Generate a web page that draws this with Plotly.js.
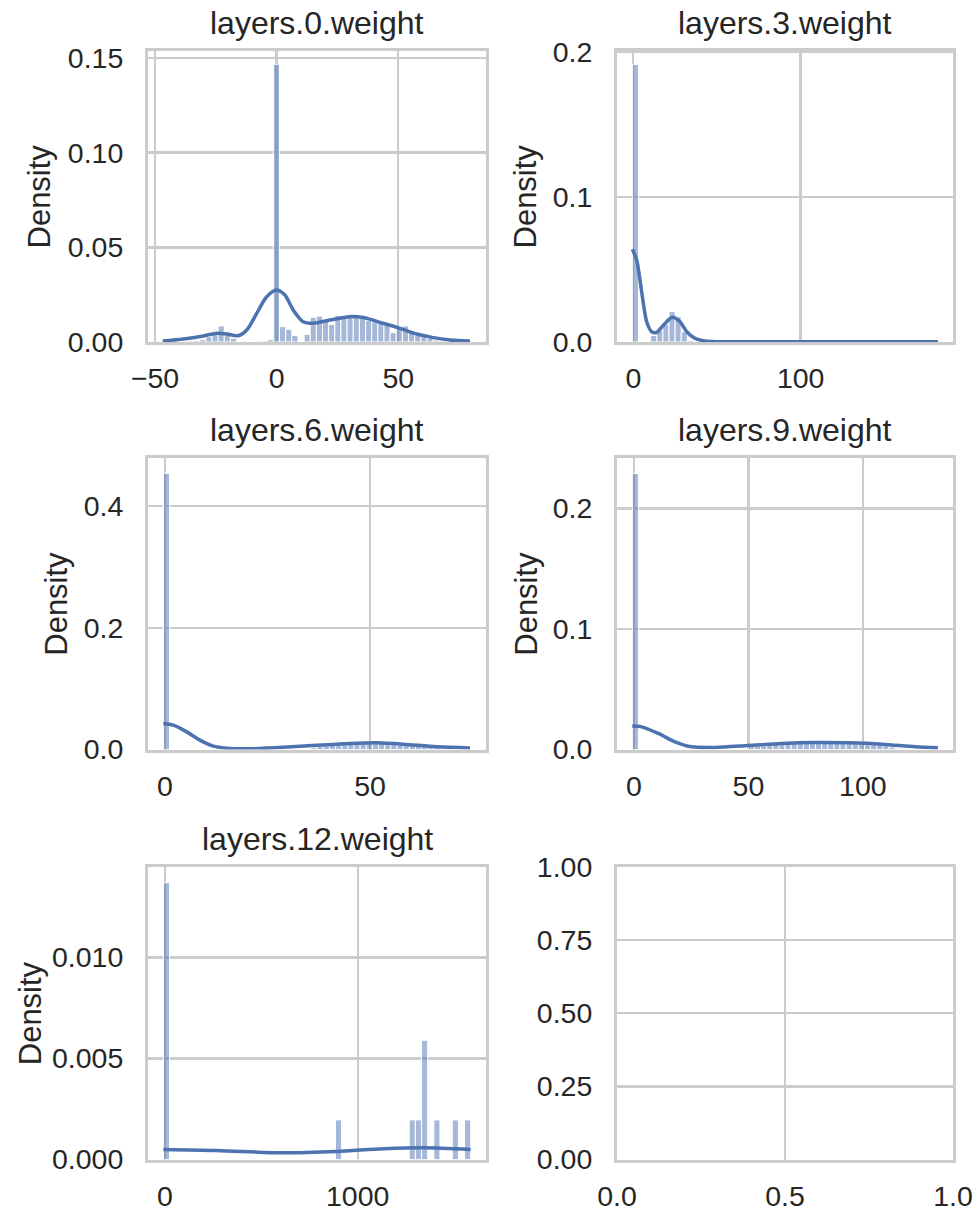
<!DOCTYPE html>
<html>
<head>
<meta charset="utf-8">
<script src="https://cdn.plot.ly/plotly-3.0.1.min.js"></script>
<style>html,body{margin:0;padding:0;background:#fff;}#chart{width:978px;height:1213px;}</style>
</head>
<body>
<div id="chart"></div>
<script>
// ---------------- data ----------------
const panelTitles = ["layers.0.weight", "layers.3.weight", "layers.6.weight", "layers.9.weight", "layers.12.weight"];

// layers.0.weight
const l0_binStart = -46.8, l0_binWidth = 2.526;
const l0_density = [0.0003, 0, 0, 0.0003, 0.0005, 0.0008, 0.0012, 0.0028, 0.0053, 0.0085,
  0.0053, 0.0020, 0, 0, 0.0003, 0.0004, 0.0005, 0.0012, 0.1467, 0.0081,
  0.0067, 0.0035, 0, 0.0040, 0.0130, 0.0137, 0.0113, 0.0092, 0.0141, 0.0141,
  0.0146, 0.0143, 0.0125, 0.0113, 0.0107, 0.0099, 0.0090, 0.0049, 0.0075, 0.0085,
  0.0060, 0.0035, 0.0028, 0.0018, 0.0010, 0.0006, 0.0004, 0.0003, 0.0002, 0.0002];
const l0_kdeX = [-46.8, -38.4, -30.2, -24.7, -20.6, -15.8, -12.3, -8.2, -4.1, 0, 3.4, 6.8, 10.9, 15.1, 21.9, 30.1, 35.6, 43.8, 50.7, 57.6, 64.4, 71.3, 79.5];
const l0_kdeY = [0.0005, 0.0016, 0.0032, 0.0046, 0.0042, 0.0033, 0.0063, 0.0151, 0.0239, 0.0275, 0.0248, 0.0169, 0.0107, 0.0099, 0.0116, 0.0134, 0.0129, 0.0099, 0.0072, 0.0042, 0.0023, 0.0011, 0.0005];

// layers.3.weight
const l3_binStart = -0.57, l3_binWidth = 3.65;
const l3_density = [0.1915, 0, 0, 0.0045, 0.0080, 0.0120, 0.0210, 0.0175, 0.0070, 0.0010,
  0, 0, 0, 0, 0, 0, 0, 0, 0, 0,
  0, 0, 0, 0, 0, 0, 0, 0, 0, 0,
  0, 0, 0, 0, 0, 0, 0, 0, 0, 0,
  0, 0, 0, 0, 0, 0, 0, 0, 0, 0.0003];
const l3_kdeX = [-0.57, 2.0, 4.0, 6.0, 8.0, 11.0, 14.0, 18.1, 23.3, 27.9, 31.9, 36.9, 42.8, 50, 70, 100, 140, 182];
const l3_kdeY = [0.0640, 0.0566, 0.0428, 0.0267, 0.0140, 0.0071, 0.0067, 0.0117, 0.0170, 0.0140, 0.0071, 0.0025, 0.0007, 0.0002, 0.0001, 0.0001, 0.0001, 0.0001];

// layers.6.weight
const l6_binStart = -0.4, l6_binWidth = 1.5;
const l6_density = [0.4540, 0, 0, 0, 0, 0, 0, 0, 0, 0,
  0, 0, 0, 0, 0, 0, 0, 0, 0, 0,
  0, 0, 0, 0, 0.0030, 0.0050, 0.0060, 0.0070, 0.0080, 0.0090,
  0.0100, 0.0110, 0.0120, 0.0130, 0.0120, 0.0120, 0.0110, 0.0100, 0.0100, 0.0090,
  0.0080, 0.0070, 0.0060, 0.0040, 0.0030, 0.0020, 0.0010, 0.0005, 0.0003, 0.0003];
const l6_kdeX = [-0.4, 2.0, 5.3, 8.5, 11.8, 15.0, 20.7, 28.9, 37.0, 45.1, 51.6, 58.1, 66.3, 74.4];
const l6_kdeY = [0.0428, 0.0400, 0.0290, 0.0154, 0.0055, 0.0022, 0.0012, 0.0035, 0.0070, 0.0099, 0.0110, 0.0088, 0.0044, 0.0025];

// layers.9.weight
const l9_binStart = -0.75, l9_binWidth = 2.67;
const l9_density = [0.2290, 0, 0, 0, 0, 0, 0, 0, 0, 0,
  0, 0, 0, 0, 0, 0, 0, 0, 0, 0.0030,
  0.0040, 0.0030, 0.0040, 0.0050, 0.0040, 0.0050, 0.0060, 0.0050, 0.0060, 0.0070,
  0.0070, 0.0060, 0.0060, 0.0070, 0.0050, 0.0060, 0.0050, 0.0060, 0.0040, 0.0050,
  0.0060, 0.0030, 0.0020, 0.0010, 0.0005, 0.0003, 0, 0, 0, 0.0003];
const l9_kdeX = [-0.75, 3.4, 10.6, 17.9, 25.2, 35.4, 50.0, 64.6, 79.1, 93.7, 108.3, 122.9, 132.8];
const l9_kdeY = [0.0194, 0.0188, 0.0133, 0.0064, 0.0022, 0.0017, 0.0033, 0.0050, 0.0058, 0.0055, 0.0044, 0.0022, 0.0014];

// layers.12.weight
const l12_binStart = -8.5, l12_binWidth = 31.9;
const l12_density = [0.0137, 0, 0, 0, 0, 0, 0, 0, 0, 0,
  0, 0, 0, 0, 0, 0, 0, 0, 0, 0,
  0, 0, 0, 0, 0, 0, 0, 0, 0.00196, 0,
  0, 0, 0, 0, 0, 0, 0, 0, 0, 0,
  0.00196, 0.00196, 0.0059, 0, 0.00196, 0, 0, 0.00196, 0, 0.00196];
const l12_kdeX = [-8.5, 268, 614, 891, 1133, 1340, 1586];
const l12_kdeY = [0.00050, 0.00045, 0.00033, 0.00040, 0.00053, 0.00058, 0.00050];

// tick labels
const xTicks = [[-50, 0, 50], [0, 100], [0, 50], [0, 50, 100], [0, 1000], [0, 0.5, 1]];
const xTickText = [["\u221250", "0", "50"], ["0", "100"], ["0", "50"], ["0", "50", "100"], ["0", "1000"], ["0.0", "0.5", "1.0"]];
const yTicks = [[0, 0.05, 0.10, 0.15], [0, 0.1, 0.2], [0, 0.2, 0.4], [0, 0.1, 0.2], [0, 0.005, 0.010], [0, 0.25, 0.5, 0.75, 1]];
const yTickText = [["0.00", "0.05", "0.10", "0.15"], ["0.0", "0.1", "0.2"], ["0.0", "0.2", "0.4"], ["0.0", "0.1", "0.2"], ["0.000", "0.005", "0.010"], ["0.00", "0.25", "0.50", "0.75", "1.00"]];

// ---------------- layout geometry ----------------
const W = 978, H = 1213;
const colPx = [[148, 486], [617, 953]];
const rowPx = [[51, 342], [458, 749.5], [867, 1159.5]];
const xRanges = [[-52.9, 86.1], [-9.74, 191.0], [-4.15, 78.3], [-7.43, 139.4], [-88.2, 1665.8], [0, 1]];
const yRanges = [[0, 0.1537], [0, 0.2007], [0, 0.479], [0, 0.2419], [0, 0.01448], [0, 1]];
const densityLabelX = [39, 525, 57, 527, 30];

const blue = "#4c72b0";
const barFill = "rgba(76,114,176,0.5)";
const grid = "#cccccc";
const txt = "#262626";
const FONT = "Liberation Sans, Arial, sans-serif";

const hist = [
  [l0_binStart, l0_binWidth, l0_density, l0_kdeX, l0_kdeY],
  [l3_binStart, l3_binWidth, l3_density, l3_kdeX, l3_kdeY],
  [l6_binStart, l6_binWidth, l6_density, l6_kdeX, l6_kdeY],
  [l9_binStart, l9_binWidth, l9_density, l9_kdeX, l9_kdeY],
  [l12_binStart, l12_binWidth, l12_density, l12_kdeX, l12_kdeY]
];

const traces = [];
const layout = {
  width: W, height: H,
  margin: {l: 0, r: 0, t: 0, b: 0},
  paper_bgcolor: "#fff", plot_bgcolor: "#fff",
  showlegend: false,
  font: {family: FONT, color: txt, size: 28.5},
  annotations: []
};

for (let i = 0; i < 6; i++) {
  const r = Math.floor(i / 2), c = i % 2;
  const sfx = i === 0 ? "" : String(i + 1);
  const xd = [colPx[c][0] / W, colPx[c][1] / W];
  const yd = [1 - rowPx[r][1] / H, 1 - rowPx[r][0] / H];
  const common = {
    showline: true, mirror: true, linecolor: grid, linewidth: 3,
    showgrid: true, gridcolor: grid, gridwidth: 2.4,
    zeroline: false, ticks: "", fixedrange: true,
    tickfont: {family: FONT, size: 28.5, color: txt}
  };
  layout["xaxis" + sfx] = Object.assign({}, common, {
    domain: xd, range: xRanges[i], anchor: "y" + sfx,
    tickmode: "array", tickvals: xTicks[i], ticktext: xTickText[i],
    ticklabelstandoff: 9
  });
  layout["yaxis" + sfx] = Object.assign({}, common, {
    domain: yd, range: yRanges[i], anchor: "x" + sfx,
    tickmode: "array", tickvals: yTicks[i], ticktext: yTickText[i],
    ticklabelstandoff: 16
  });

  if (i < 5) {
    const [b0, bw, dens, kx, ky] = hist[i];
    const centers = dens.map((_, k) => b0 + bw * (k + 0.5));
    traces.push({
      type: "bar", x: centers, y: dens, width: bw,
      xaxis: "x" + sfx, yaxis: "y" + sfx,
      marker: {color: barFill, line: {color: "#ffffff", width: 1}},
      hoverinfo: "skip"
    });
    traces.push({
      type: "scatter", mode: "lines", x: kx, y: ky,
      xaxis: "x" + sfx, yaxis: "y" + sfx,
      line: {color: blue, width: 3.5, shape: "spline", smoothing: 0.8},
      hoverinfo: "skip"
    });
    // subplot title
    layout.annotations.push({
      text: panelTitles[i], xref: "paper", yref: "paper",
      x: (xd[0] + xd[1]) / 2, y: 1 - (rowPx[r][0] - 28) / H,
      xanchor: "center", yanchor: "middle", showarrow: false,
      font: {family: FONT, size: 32, color: txt}
    });
    // y label
    layout.annotations.push({
      text: "Density", xref: "paper", yref: "paper",
      x: densityLabelX[i] / W, y: (yd[0] + yd[1]) / 2,
      xanchor: "center", yanchor: "middle", textangle: -90, showarrow: false,
      font: {family: FONT, size: 31, color: txt}
    });
  } else {
    traces.push({type: "scatter", mode: "markers", x: [], y: [], xaxis: "x" + sfx, yaxis: "y" + sfx});
  }
}

Plotly.newPlot("chart", traces, layout, {staticPlot: true});
</script>
</body>
</html>
